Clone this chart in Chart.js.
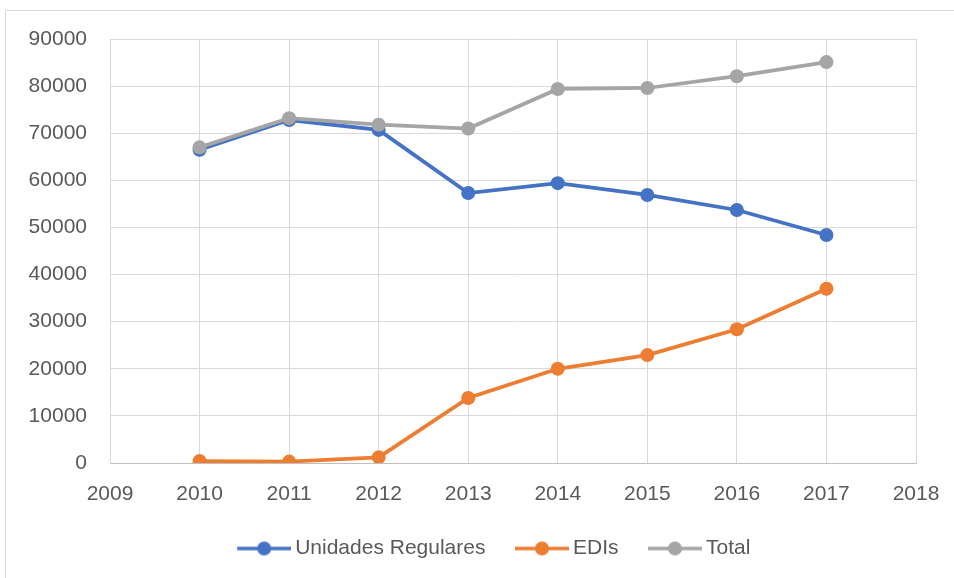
<!DOCTYPE html>
<html lang="es">
<head>
<meta charset="UTF-8">
<title>Unidades Regulares, EDIs y Total</title>
<script src="https://cdn.jsdelivr.net/npm/chart.js"></script>
<style>
    html, body { margin: 0; padding: 0; background: #fff; overflow: hidden; }
    #wrap { position: relative; width: 954px; height: 578px; }
    #frame { position: absolute; left: 5px; top: 10px; width: 1000px; height: 600px; border: 1px solid #d9d9d9; }
    #c { position: absolute; left: 0; top: 0; }
</style>
</head>
<body>
<div id="wrap">
    <div id="frame"></div>
    <canvas id="c" width="954" height="578"></canvas>
</div>
<script>
    // datos
    const years = [2010, 2011, 2012, 2013, 2014, 2015, 2016, 2017];
    const unidadesRegulares = [66500, 72800, 70700, 57300, 59400, 56900, 53700, 48400];
    const edis = [400, 300, 1200, 13800, 20000, 22900, 28400, 37000];
    const total = [67000, 73200, 71800, 71000, 79400, 79600, 82100, 85100];
    const seriesNames = ['Unidades Regulares', 'EDIs', 'Total'];
    const seriesColors = ['#4472C4', '#ED7D31', '#A5A5A5'];

    const FONT = "'Liberation Sans', Arial, sans-serif";
    const TEXT = '#595959';
    const GRID = '#d9d9d9';

    // icono de la leyenda: línea con marcador (hueco a la izquierda = separación entre elementos)
    function legendIcon(color) {
        const cv = document.createElement('canvas');
        cv.width = 80;
        cv.height = 16;
        const g = cv.getContext('2d');
        g.strokeStyle = color;
        g.lineWidth = 3.5;
        g.beginPath();
        g.moveTo(26, 8);
        g.lineTo(80, 8);
        g.stroke();
        g.fillStyle = color;
        g.beginPath();
        g.arc(53, 8, 7, 0, Math.PI * 2);
        g.fill();
        return cv;
    }

    // desplaza la leyenda para centrarla como en el original
    const legendShift = {
        id: 'legendShift',
        afterLayout(chart) {
            const lg = chart.legend;
            if (lg) { lg.left += 26; lg.right += 26; }
        }
    };

    function makeSet(i, values, order) {
        return {
            label: seriesNames[i],
            data: years.map((y, k) => ({ x: y, y: values[k] })),
            borderColor: seriesColors[i],
            backgroundColor: seriesColors[i],
            pointBackgroundColor: seriesColors[i],
            pointBorderColor: seriesColors[i],
            borderWidth: 3.75,
            pointRadius: 7,
            pointHoverRadius: 7,
            pointBorderWidth: 0,
            tension: 0,
            order: order
        };
    }

    new Chart(document.getElementById('c'), {
        type: 'line',
        data: {
            datasets: [
                makeSet(0, unidadesRegulares, 1),
                makeSet(1, edis, 1),
                makeSet(2, total, 0)
            ]
        },
        plugins: [legendShift],
        options: {
            responsive: false,
            animation: false,
            layout: { padding: { left: 0, right: 38, top: 39, bottom: 9 } },
            scales: {
                x: {
                    type: 'linear',
                    min: 2009,
                    max: 2018,
                    afterFit: s => { s.height = 65; },
                    ticks: {
                        stepSize: 1,
                        color: TEXT,
                        padding: 4,
                        font: { family: FONT, size: 21 },
                        callback: v => String(v)
                    },
                    // marcas invisibles: solo separan las etiquetas del eje
                    grid: { color: GRID, lineWidth: 1, drawTicks: true, tickLength: 15, tickColor: 'rgba(0,0,0,0)' },
                    border: { color: '#bfbfbf', width: 1 }
                },
                y: {
                    min: 0,
                    max: 90000,
                    afterFit: s => { s.width = 110; },
                    ticks: {
                        stepSize: 10000,
                        color: TEXT,
                        padding: 23,
                        font: { family: FONT, size: 21 },
                        callback: v => String(v)
                    },
                    grid: { color: GRID, lineWidth: 1, drawTicks: false },
                    border: { color: GRID, width: 1 }
                }
            },
            plugins: {
                tooltip: { enabled: false },
                legend: {
                    position: 'bottom',
                    labels: {
                        usePointStyle: true,
                        pointStyleWidth: 67,
                        padding: 10,
                        color: TEXT,
                        font: { family: FONT, size: 21 },
                        sort: (a, b) => a.datasetIndex - b.datasetIndex,
                        generateLabels(chart) {
                            const items = Chart.defaults.plugins.legend.labels.generateLabels(chart);
                            items.forEach(it => { it.pointStyle = legendIcon(seriesColors[it.datasetIndex]); });
                            return items;
                        }
                    }
                }
            }
        }
    });
</script>
</body>
</html>
